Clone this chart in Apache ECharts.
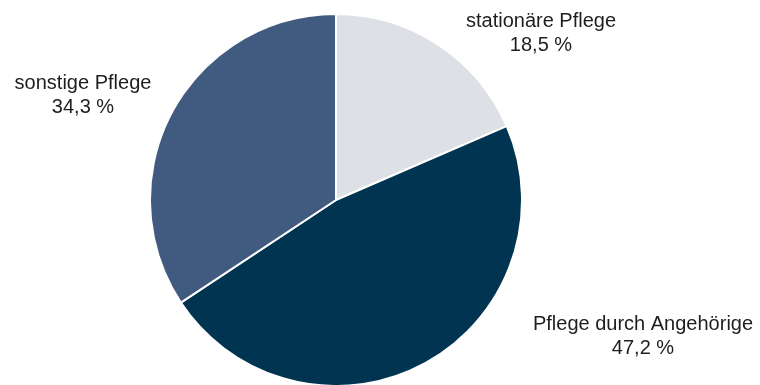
<!DOCTYPE html>
<html><head><meta charset="utf-8">
<script src="https://cdn.jsdelivr.net/npm/echarts@6/dist/echarts.min.js"></script>
<style>html,body{margin:0;padding:0;background:#fff}#c{width:760px;height:385px}</style>
</head><body><div id="c"></div>
<script>
const categories = ["stationäre Pflege", "Pflege durch Angehörige", "sonstige Pflege"];
const values = [18.5, 47.2, 34.3];
const colors = ["#dde1e5", "#003451", "#415a80"];
const labelPos = [
  {x: 541, y: 33},
  {x: 643, y: 336},
  {x: 83, y: 95}
];
const chart = echarts.init(document.getElementById('c'), null, {renderer: 'canvas'});
chart.setOption({
  animation: false,
  series: [{
    type: 'pie',
    center: [336, 200],
    radius: [0, 186],
    startAngle: 90,
    clockwise: true,
    data: categories.map((n, i) => ({name: n, value: values[i], itemStyle: {color: colors[i]}})),
    itemStyle: {borderColor: '#fff', borderWidth: 2},
    label: {
      show: true,
      formatter: p => p.name + '\n' + p.value.toFixed(1).replace('.', ',') + ' %',
      fontFamily: 'Liberation Sans, Arial, sans-serif',
      fontSize: 20,
      lineHeight: 24,
      color: '#1e1e1e',
      align: 'center',
      overflow: 'none',
      width: 400
    },
    labelLine: {show: false},
    labelLayout: p => ({x: labelPos[p.dataIndex].x, y: labelPos[p.dataIndex].y, align: 'center', verticalAlign: 'middle'})
  }]
});
</script></body></html>
